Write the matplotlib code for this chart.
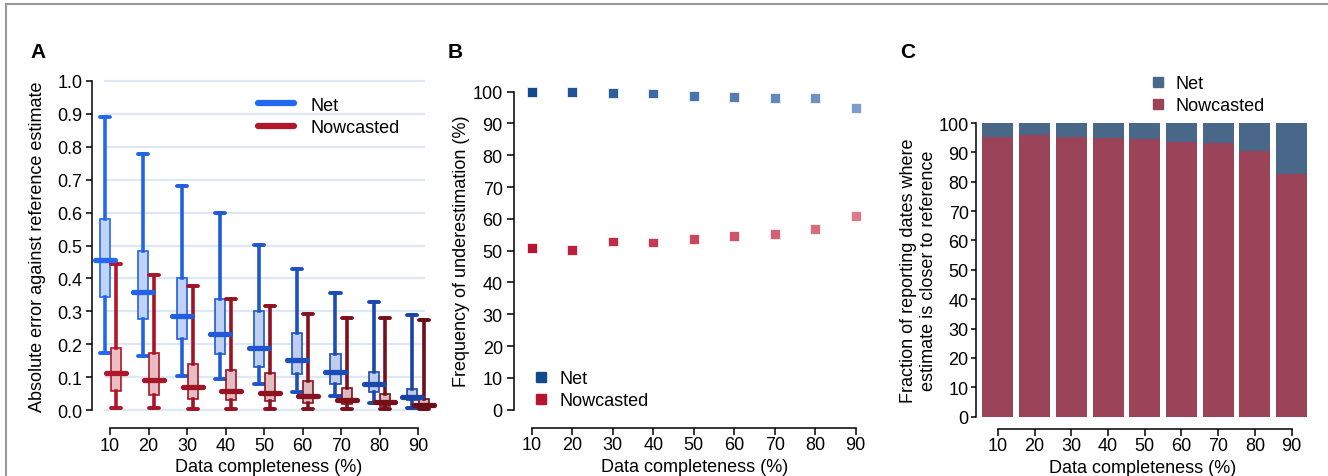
import matplotlib

matplotlib.use("Agg")
import matplotlib.pyplot as plt
import numpy as np
from matplotlib.colors import to_rgb
from matplotlib.lines import Line2D

plt.rcParams["font.family"] = ["Liberation Sans", "DejaVu Sans"]
plt.rcParams["font.size"] = 13

completeness = [10, 20, 30, 40, 50, 60, 70, 80, 90]

# Panel A: box statistics of absolute error
net_whishi = [0.89, 0.778, 0.68, 0.60, 0.503, 0.43, 0.355, 0.327, 0.29]
net_q3 = [0.58, 0.483, 0.40, 0.338, 0.30, 0.233, 0.17, 0.115, 0.065]
net_med = [0.455, 0.358, 0.285, 0.23, 0.188, 0.152, 0.117, 0.08, 0.041]
net_q1 = [0.345, 0.278, 0.217, 0.17, 0.132, 0.108, 0.08, 0.055, 0.03]
net_whislo = [0.172, 0.163, 0.103, 0.094, 0.08, 0.055, 0.043, 0.022, 0.006]

now_whishi = [0.445, 0.41, 0.378, 0.337, 0.317, 0.292, 0.28, 0.28, 0.275]
now_q3 = [0.19, 0.173, 0.14, 0.122, 0.112, 0.087, 0.068, 0.048, 0.035]
now_med = [0.114, 0.092, 0.07, 0.058, 0.052, 0.043, 0.032, 0.025, 0.016]
now_q1 = [0.058, 0.045, 0.035, 0.03, 0.026, 0.022, 0.017, 0.012, 0.006]
now_whislo = [0.005, 0.005, 0.004, 0.003, 0.003, 0.003, 0.003, 0.003, 0.003]

# Panel B: frequency of underestimation (%)
net_under = [100.0, 100.0, 99.6, 99.4, 98.6, 98.4, 98.1, 98.1, 94.9]
now_under = [50.9, 50.2, 52.9, 52.6, 53.6, 54.6, 55.3, 56.8, 61.0]

# Panel C: fraction where nowcasted estimate is closer (%)
now_closer = [95.3, 95.9, 95.3, 94.9, 94.6, 93.6, 93.1, 90.4, 82.5]
net_closer = [100 - v for v in now_closer]


def blend(c0, c1, n):
    a, b = np.array(to_rgb(c0)), np.array(to_rgb(c1))
    return [tuple(a + (b - a) * t) for t in np.linspace(0, 1, n)]


def lighten(c, f):
    c = np.array(to_rgb(c))
    return tuple(c + (1 - c) * f)


def style_axes(ax, xoff, ybounds, ytick):
    ax.spines["top"].set_visible(False)
    ax.spines["right"].set_visible(False)
    ax.spines["bottom"].set_position(("outward", xoff))
    ax.spines["bottom"].set_bounds(10, 90)
    ax.spines["left"].set_bounds(*ybounds)
    for s in ("left", "bottom"):
        ax.spines[s].set_linewidth(1.1)
    ax.set_xticks(completeness)
    ax.tick_params(axis="x", length=5, width=1.1, pad=1, labelsize=13)
    ax.tick_params(axis="y", length=ytick[0], width=1.1, pad=ytick[1], labelsize=13)
    ax.set_xlabel("Data completeness (%)", fontsize=13, labelpad=3)


def square_legend(ax, colors, anchor, loc):
    handles = [Line2D([], [], marker="s", ls="", color=c, markersize=6.5) for c in colors]
    ax.legend(handles, ["Net", "Nowcasted"], loc=loc, bbox_to_anchor=anchor,
              frameon=False, handlelength=1.0, handletextpad=0.5, labelspacing=0.3,
              borderpad=0, borderaxespad=0, fontsize=13)


fig = plt.figure(figsize=(13.28, 4.77), dpi=100)

# frame lines (top and left)
fig.add_artist(Line2D([6 / 1328, 6 / 1328], [0, 1 - 5 / 477], color="#999999", lw=1.5))
fig.add_artist(Line2D([6 / 1328, 1], [1 - 5 / 477, 1 - 5 / 477], color="#999999", lw=1.5))

# ---------- Panel A ----------
axA = fig.add_axes([0.0693, 0.1245, 0.2658, 0.7174])
axA.set_xlim(5.3, 97)
axA.set_ylim(-0.02, 1.02)
for g in np.arange(0, 1.01, 0.1):
    axA.hlines(g, 8.4, 91.8, color="#dde8f4", lw=1.6, zorder=0)

net_cols = blend("#2368f2", "#1a43a3", 9)
now_cols = blend("#b2162a", "#6c0e18", 9)
for i, x in enumerate(completeness):
    for pos, stats, col in [
        (x - 1.45, dict(med=net_med[i], q1=net_q1[i], q3=net_q3[i],
                        whislo=net_whislo[i], whishi=net_whishi[i], fliers=[]), net_cols[i]),
        (x + 1.5, dict(med=now_med[i], q1=now_q1[i], q3=now_q3[i],
                       whislo=now_whislo[i], whishi=now_whishi[i], fliers=[]), now_cols[i]),
    ]:
        axA.bxp([stats], positions=[pos], widths=2.6, capwidths=2.6,
                patch_artist=True, showfliers=False, manage_ticks=False,
                boxprops=dict(facecolor=lighten(col, 0.72), edgecolor=col, linewidth=1.2),
                whiskerprops=dict(color=col, linewidth=2.6),
                capprops=dict(color=col, linewidth=2.8, solid_capstyle="round"),
                medianprops=dict(linewidth=0))
        axA.hlines(stats["med"], pos - 2.6, pos + 2.6, color=col, lw=3.8,
                   capstyle="round", zorder=4)

style_axes(axA, 8.4, (0, 1), (4, 3))
axA.set_yticks(np.arange(0, 1.01, 0.1))
axA.set_yticklabels([f"{v:.1f}" for v in np.arange(0, 1.01, 0.1)])
axA.set_ylabel("Absolute error against reference estimate", fontsize=13, labelpad=8)
legA = [Line2D([], [], color="#2368f2", lw=4.5, solid_capstyle="round"),
        Line2D([], [], color="#b2162a", lw=4.5, solid_capstyle="round")]
axA.legend(legA, ["Net", "Nowcasted"], loc="upper left", bbox_to_anchor=(0.47, 0.935),
           frameon=False, handlelength=2.0, handletextpad=0.9, labelspacing=0.3,
           borderpad=0, borderaxespad=0, fontsize=13)

# ---------- Panel B ----------
axB = fig.add_axes([0.387, 0.1256, 0.2726, 0.6935])
axB.set_xlim(5.56, 95)
axB.set_ylim(-2, 102)
net_b = blend("#134a8e", "#7b9dc9", 9)
now_b = blend("#b8132f", "#dc7a8b", 9)
axB.scatter(completeness, net_under, marker="s", s=50, c=net_b, edgecolors="white",
            linewidths=0.5, zorder=3)
axB.scatter(completeness, now_under, marker="s", s=50, c=now_b, edgecolors="white",
            linewidths=0.5, zorder=3)
style_axes(axB, 8.6, (0, 100), (5, 3))
axB.set_yticks(range(0, 101, 10))
axB.set_ylabel("Frequency of underestimation (%)", fontsize=13, labelpad=2)
square_legend(axB, ["#134a8e", "#b8132f"], (0.05, 0.02), "lower left")

# ---------- Panel C ----------
axC = fig.add_axes([0.7347, 0.1243, 0.2517, 0.6157])
axC.set_xlim(3.93, 95)
axC.set_ylim(0, 100)
axC.bar(completeness, now_closer, width=8.45, color="#9b4358")
axC.bar(completeness, net_closer, width=8.45, bottom=now_closer, color="#486789")
style_axes(axC, 8.9, (0, 100), (3.5, 1.5))
axC.set_yticks(range(0, 101, 10))
axC.set_ylabel("Fraction of reporting dates where\nestimate is closer to reference",
               fontsize=13, labelpad=1, linespacing=1.2)
square_legend(axC, ["#486789", "#9b4358"], (0.518, 1.164), "upper left")

for lab, x in [("A", 30), ("B", 448), ("C", 900)]:
    fig.text(x / 1328, 1 - 58 / 477, lab, fontsize=15, fontweight="bold", ha="left",
             va="baseline")

fig.savefig("out.png", dpi=100)
